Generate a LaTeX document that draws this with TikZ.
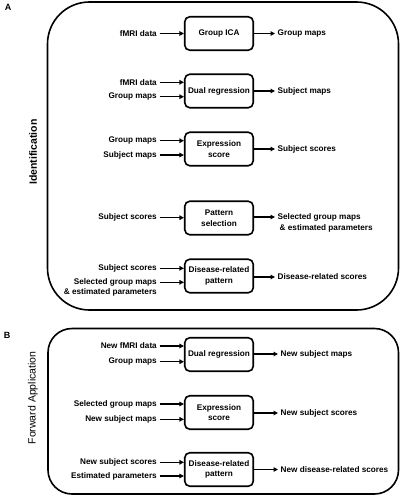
\documentclass[tikz,border=0pt]{standalone}
\usepackage{fontspec}
\setmainfont{Liberation Sans}
\usetikzlibrary{arrows.meta}
\begin{document}
\begin{tikzpicture}[x=1pt,y=-1pt,
  txt/.style={font=\fontsize{8.2}{10.5}\selectfont\bfseries},
  proc/.style={txt,draw,line width=1.6pt,rounded corners=5pt,minimum width=68.5pt,minimum height=33.5pt,align=center,inner sep=1pt},
  inl/.style={txt,anchor=east,inner sep=2.5pt},
  outl/.style={txt,anchor=west,inner sep=2.5pt},
  flow/.style={line width=1.4pt,-{Triangle[length=4.5pt,width=4.5pt]}},
  panel/.style={draw,line width=1.6pt},
  side/.style={rotate=90,font=\fontsize{10.5}{12}\selectfont},
  tag/.style={font=\fontsize{9}{10}\selectfont\bfseries}
]
\useasboundingbox (0,0) rectangle (401,500);
% panels
\draw[panel,rounded corners=42pt] (47.5,2) rectangle (398.5,310);
\draw[panel,rounded corners=24pt] (48,328.5) rectangle (398.5,494);
\node[tag] (ta) at (8,7) {A};
\node[tag] (tb) at (7,335) {B};
\node[side,font=\fontsize{10.5}{12}\selectfont\bfseries] (sid) at (33,152) {Identification};
\node[side] (sfa) at (33,398) {Forward Application};

% A1 Group ICA
\node[proc] (b1) at (219,33.5) {Group ICA};
\node[inl] (i1) at (159.5,33.5) {fMRI data};
\node[outl] (o1) at (275,33.5) {Group maps};
\draw[flow] (i1.east) -- (i1.east -| b1.west);
\draw[flow] (b1.east) -- (o1.west);

% A2 Dual regression
\node[proc] (b2) at (219,91) {Dual regression};
\node[inl] (i2) at (159.5,82.3) {fMRI data};
\node[inl] (i3) at (159.5,96.7) {Group maps};
\node[outl] (o2) at (275,91) {Subject maps};
\draw[flow] (i2.east) -- (i2.east -| b2.west);
\draw[flow] (i3.east) -- (i3.east -| b2.west);
\draw[flow] (b2.east) -- (o2.west);

% A3 Expression score
\node[proc] (b3) at (219,149) {Expression\\score};
\node[inl] (i4) at (159.5,140.7) {Group maps};
\node[inl] (i5) at (159.5,155) {Subject maps};
\node[outl] (o3) at (275,149) {Subject scores};
\draw[flow] (i4.east) -- (i4.east -| b3.west);
\draw[flow] (i5.east) -- (i5.east -| b3.west);
\draw[flow] (b3.east) -- (o3.west);

% A4 Pattern selection
\node[proc] (b4) at (219,218) {Pattern\\selection};
\node[inl] (i6) at (159.5,217.7) {Subject scores};
\node[outl] (o4) at (275,217) {Selected group maps};
\node[outl] (o4b) at (277,228.5) {\& estimated parameters};
\draw[flow] (i6.east) -- (i6.east -| b4.west);
\draw[flow] (b4.east |- o4.west) -- (o4.west);

% A5 Disease-related pattern
\node[proc] (b5) at (219,276) {Disease-related\\pattern};
\node[inl] (i7) at (159.5,268.3) {Subject scores};
\node[inl] (i8) at (159.5,282.3) {Selected group maps};
\node[inl] (i8b) at (159.5,292) {\& estimated parameters};
\node[outl] (o5) at (275,277) {Disease-related scores};
\draw[flow] (i7.east) -- (i7.east -| b5.west);
\draw[flow] (i8.east) -- (i8.east -| b5.west);
\draw[flow] (b5.east |- o5.west) -- (o5.west);

% B1 Dual regression
\node[proc] (b6) at (219,354.5) {Dual regression};
\node[inl] (i9) at (159.5,346) {New fMRI data};
\node[inl] (i10) at (159.5,361.7) {Group maps};
\node[outl] (o6) at (278,354) {New subject maps};
\draw[flow] (i9.east) -- (i9.east -| b6.west);
\draw[flow] (i10.east) -- (i10.east -| b6.west);
\draw[flow] (b6.east |- o6.west) -- (o6.west);

% B2 Expression score
\node[proc] (b7) at (219,412.5) {Expression\\score};
\node[inl] (i11) at (159.5,404) {Selected group maps};
\node[inl] (i12) at (159.5,419.3) {New subject maps};
\node[outl] (o7) at (278,413) {New subject scores};
\draw[flow] (i11.east) -- (i11.east -| b7.west);
\draw[flow] (i12.east) -- (i12.east -| b7.west);
\draw[flow] (b7.east |- o7.west) -- (o7.west);

% B3 Disease-related pattern
\node[proc] (b8) at (219,469.5) {Disease-related\\pattern};
\node[inl] (i13) at (159.5,462.3) {New subject scores};
\node[inl] (i14) at (159.5,476) {Estimated parameters};
\node[outl] (o8) at (278,469.5) {New disease-related scores};
\draw[flow] (i13.east) -- (i13.east -| b8.west);
\draw[flow] (i14.east) -- (i14.east -| b8.west);
\draw[flow] (b8.east) -- (o8.west);
\end{tikzpicture}
\end{document}
